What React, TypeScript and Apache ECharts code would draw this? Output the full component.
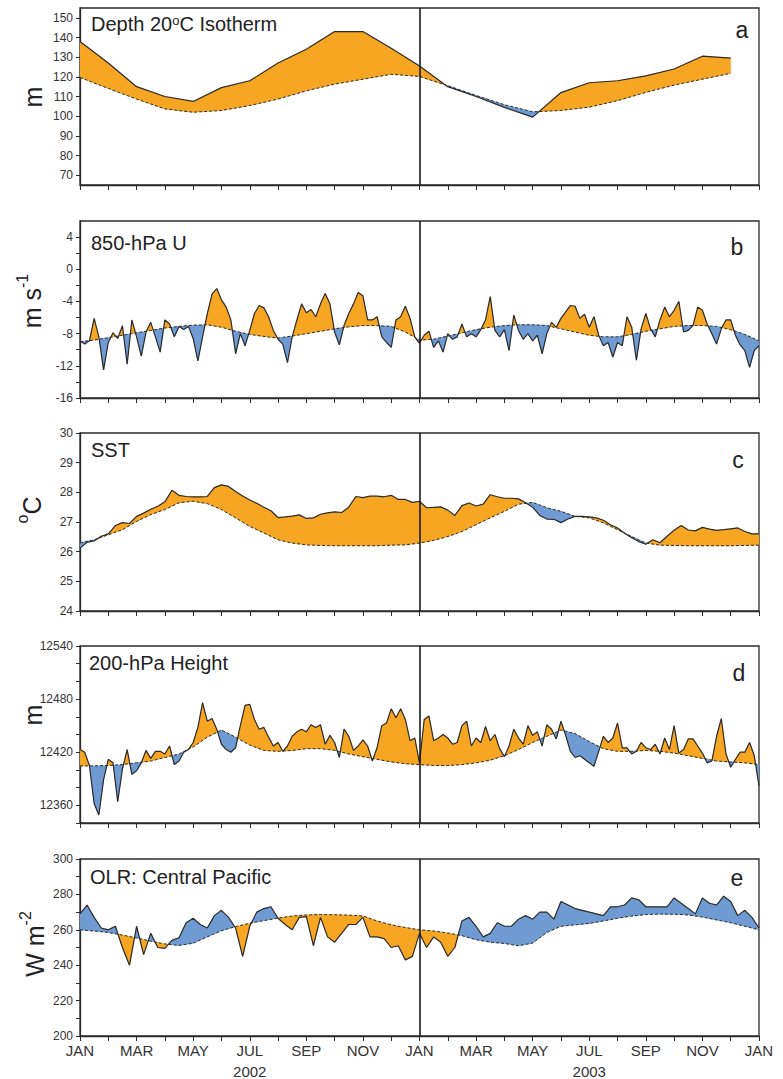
import React, { useEffect, useRef } from "react";
import * as echarts from "echarts";

const MONTHS = ["JAN", "FEB", "MAR", "APR", "MAY", "JUN", "JUL", "AUG", "SEP", "OCT", "NOV", "DEC"];
const YEARS = ["2002", "2003"];

// (a) Depth of 20C isotherm, monthly from Jan 2002
const depthStep = 1;
const depthActual = [138, 127, 115, 110, 107.5, 114.5, 118, 127, 134, 143, 143, 134.5, 125.5, 115, 110, 104.5, 99.5, 112, 117, 118, 120.5, 124, 130.5, 129.5];
const depthClim = [119.7, 114.1, 108.7, 103.7, 102, 102.9, 105.4, 108.7, 112.9, 116.3, 118.8, 121.3, 120.2, 115.5, 110.5, 105.8, 102.2, 102.9, 104.6, 107.9, 112.1, 115.8, 118.8, 121.8];
const depthTicks = [70, 80, 90, 100, 110, 120, 130, 140, 150];

// (b) 850-hPa U, 6 samples per month
const uStep = 1 / 6;
const uActual = [
  -8.9, -9.3, -8.9, -6.1, -8.4, -12.5, -9.1, -7.9, -8.6, -7.0,
  -11.8, -6.3, -8.4, -10.8, -7.8, -6.6, -8.4, -10.3, -6.3, -6.8,
  -8.4, -7.1, -7.5, -7.1, -8.6, -11.4, -8.4, -5.5, -3.1, -2.4,
  -3.8, -4.7, -6.3, -10.5, -8.0, -9.5, -7.6, -5.5, -4.5, -4.8,
  -5.9, -7.6, -8.7, -9.3, -11.6, -8.4, -6.3, -4.3, -5.4, -5.0,
  -5.9, -4.3, -3.0, -4.3, -7.8, -9.4, -7.0, -5.5, -4.3, -2.9,
  -3.3, -6.3, -6.3, -5.9, -8.4, -9.1, -9.7, -6.3, -5.9, -4.6,
  -6.1, -8.4, -9.2,
  -8.2, -7.7, -9.7, -8.9, -10.3, -8.0, -8.7, -8.4, -6.8, -8.4,
  -8.0, -8.4, -7.5, -6.3, -3.4, -7.6, -8.4, -7.5, -10.1, -5.7,
  -7.6, -8.7, -8.0, -8.9, -8.2, -10.5, -8.0, -6.6, -7.2, -6.1,
  -5.3, -4.5, -4.6, -6.1, -5.6, -7.2, -5.9, -8.2, -9.5, -9.1,
  -10.9, -9.1, -9.5, -5.9, -7.2, -11.3, -7.4, -5.5, -7.4, -8.4,
  -6.3, -4.7, -5.9, -5.1, -4.0, -7.8, -7.6, -7.0, -4.7, -5.1,
  -6.8, -8.0, -9.3, -7.4, -6.3, -6.3, -8.2, -9.4, -10.1, -12.2,
  -10.1, -9.5,
];
const uClimStep = 0.5;
const uClim = [
  -9.0, -8.8, -8.5, -8.2, -7.9, -7.6, -7.3, -7.1, -6.95, -6.9, -7.2, -7.7, -8.1, -8.35, -8.55, -8.3, -8.0, -7.7, -7.4, -7.15, -7.0, -7.0, -7.1, -7.8, -8.8,
  -8.7, -8.3, -7.9, -7.5, -7.2, -7.0, -6.9, -6.9, -7.0, -7.4, -7.8, -8.2, -8.4, -8.4, -8.1, -7.7, -7.4, -7.1, -7.0, -7.0, -7.1, -7.5, -8.1, -8.9,
];
const uLabels = [-16, -12, -8, -4, 0, 4];
const uTicks = [-16, -14, -12, -10, -8, -6, -4, -2, 0, 2, 4];

// (c) SST, 4 samples per month
const sstStep = 0.25;
const sstActual = [
  26.12, 26.32, 26.36, 26.52, 26.6, 26.88, 26.98, 26.95, 27.19, 27.3, 27.43, 27.53, 27.68,
  28.07, 27.9, 27.86, 27.85, 27.85, 27.86, 28.16, 28.25, 28.2, 28.03, 27.88, 27.74,
  27.63, 27.5, 27.38, 27.15, 27.17, 27.2, 27.24, 27.12, 27.14, 27.26, 27.31, 27.34,
  27.32, 27.5, 27.86, 27.82, 27.87, 27.87, 27.85, 27.9, 27.76, 27.76, 27.66, 27.7,
  27.48, 27.49, 27.51, 27.4, 27.22, 27.55, 27.64, 27.54, 27.6, 27.92, 27.85, 27.8,
  27.8, 27.78, 27.65, 27.5, 27.22, 27.1, 27.09, 26.98, 27.1, 27.19, 27.19, 27.17,
  27.14, 27.06, 26.91, 26.8, 26.62, 26.47, 26.34, 26.25, 26.4, 26.3, 26.52, 26.72,
  26.88, 26.73, 26.7, 26.82, 26.76, 26.72, 26.74, 26.77, 26.8, 26.68, 26.6, 26.6,
];
const sstClimStep = 0.5;
const sstClim = [
  26.3, 26.4, 26.57, 26.74, 27.02, 27.25, 27.42, 27.65, 27.7, 27.62, 27.42, 27.14, 26.85, 26.63, 26.4, 26.29, 26.23, 26.21, 26.2, 26.2, 26.2, 26.2, 26.22, 26.23, 26.29,
  26.38, 26.51, 26.68, 26.91, 27.14, 27.36, 27.6, 27.66, 27.48, 27.36, 27.19, 27.14, 26.97, 26.74, 26.51, 26.29, 26.22, 26.21, 26.2, 26.2, 26.2, 26.2, 26.21, 26.22,
];
const sstTicks = [24, 25, 26, 27, 28, 29, 30];

// (d) 200-hPa height, 6 samples per month
const zStep = 1 / 6;
const zActual = [
  12423, 12420, 12405, 12362, 12349, 12389, 12412, 12408, 12364, 12401,
  12423, 12395, 12399, 12408, 12422, 12413, 12421, 12421, 12418, 12427,
  12406, 12410, 12420, 12423, 12431, 12448, 12476, 12455, 12458, 12446,
  12429, 12423, 12420, 12425, 12450, 12473, 12474, 12457, 12446, 12448,
  12437, 12427, 12431, 12421, 12427, 12438, 12443, 12446, 12443, 12451,
  12448, 12451, 12429, 12439, 12431, 12414, 12446, 12438, 12422, 12427,
  12434, 12427, 12410, 12425, 12450, 12453, 12469, 12459, 12469, 12457,
  12433, 12436, 12408, 12457, 12461, 12433, 12436, 12440, 12436, 12429,
  12431, 12450, 12455, 12427, 12436, 12431, 12449, 12433, 12440, 12424,
  12415, 12427, 12446, 12436, 12429, 12450, 12439, 12443, 12427, 12451,
  12446, 12435, 12455, 12439, 12421, 12414, 12416, 12412, 12408, 12404,
  12421, 12438, 12431, 12436, 12453, 12425, 12425, 12418, 12421, 12431,
  12425, 12423, 12429, 12418, 12436, 12423, 12450, 12419, 12423, 12435,
  12435, 12427, 12419, 12408, 12410, 12438, 12458, 12418, 12403, 12412,
  12420, 12420, 12431, 12416, 12382,
];
const zClimStep = 0.5;
const zClim = [
  12404.5, 12404.5, 12405, 12406, 12408, 12410, 12414, 12418, 12426, 12437, 12445, 12437, 12428, 12422, 12421, 12422, 12424, 12424, 12422, 12418, 12415, 12412, 12409, 12407, 12406,
  12405, 12405, 12406, 12408, 12411, 12416, 12423, 12431, 12438, 12445, 12441, 12432, 12424, 12421, 12421, 12422, 12421, 12419, 12416, 12413, 12410, 12409, 12408, 12406,
];
const zLabels = [12360, 12420, 12480, 12540];
const zTicks = [12340, 12360, 12380, 12400, 12420, 12440, 12460, 12480, 12500, 12520, 12540];

// (e) OLR central Pacific, 4 samples per month
const olrStep = 0.25;
const olrActual = [
  269, 274, 267, 261, 260, 262, 250, 240, 262, 246, 258, 250, 249.5, 254, 255.5, 264, 266.5, 263, 261, 268, 271, 267, 261, 245, 262,
  270, 272, 273, 266.5, 263, 260, 267, 267.4, 251, 267, 256, 253, 258, 263, 263, 267, 256, 256, 255, 250, 251, 243, 245, 258,
  250, 256, 253, 245, 250, 265, 267, 262, 256, 258, 264, 262, 262, 266, 268, 266, 270, 270, 266, 276, 274, 272, 271, 270,
  269, 268, 273, 273, 274, 278, 277, 273, 273, 273, 273, 278, 275, 272, 269, 278, 275, 274, 279, 276, 268, 271, 267, 261,
];
const olrClimStep = 0.5;
const olrClim = [
  260.0, 259.3, 258.5, 257.0, 255.4, 253.6, 252.0, 251.2, 252.4, 256.0, 259.5, 261.8, 263.7, 265.2, 266.6, 267.8, 268.4, 268.6, 268.5, 268.3, 267.8, 265.0, 262.8, 261.3, 260.0,
  259.3, 258.2, 256.7, 254.4, 253.0, 252.3, 251.0, 252.5, 258.5, 262.0, 262.8, 263.6, 265.0, 266.5, 267.8, 268.6, 268.9, 268.8, 268.4, 267.2, 265.6, 264.0, 262.0, 260.0,
];
const olrLabels = [200, 220, 240, 260, 280, 300];
const olrTicks = [200, 210, 220, 230, 240, 250, 260, 270, 280, 290, 300];

const ORANGE = "#F6A623";
const BLUE = "#6F9AD2";
const INK = "#2b2b2b";
const FONT = "'Liberation Sans', Arial, Helvetica, sans-serif";

type Pt = { x: number; a: number; c: number };

function toPairs(vals: number[], step: number): number[][] {
  return vals.map((v, i) => [i * step, v]);
}

function interp(pairs: number[][], x: number): number {
  for (let i = 0; i < pairs.length - 1; i++) {
    const [x0, y0] = pairs[i];
    const [x1, y1] = pairs[i + 1];
    if (x >= x0 - 1e-9 && x <= x1 + 1e-9) {
      const t = x1 === x0 ? 0 : (x - x0) / (x1 - x0);
      return y0 + t * (y1 - y0);
    }
  }
  return pairs[pairs.length - 1][1];
}

function buildRuns(act: number[][], clim: number[][]) {
  const lo = Math.max(act[0][0], clim[0][0]);
  const hi = Math.min(act[act.length - 1][0], clim[clim.length - 1][0]);
  const set = new Map<string, number>();
  [...act, ...clim].forEach((p) => {
    if (p[0] >= lo - 1e-9 && p[0] <= hi + 1e-9) set.set(p[0].toFixed(6), p[0]);
  });
  const xs = Array.from(set.values()).sort((a, b) => a - b);
  const pts: Pt[] = xs.map((x) => ({ x, a: interp(act, x), c: interp(clim, x) }));
  const runs: { sign: number; pts: Pt[] }[] = [];
  let cur: Pt[] = [];
  let sign = 0;
  for (let i = 0; i < pts.length; i++) {
    const p = pts[i];
    const d = p.a - p.c;
    const s = d > 0 ? 1 : d < 0 ? -1 : 0;
    if (s !== 0 && sign !== 0 && s !== sign && i > 0) {
      const q = pts[i - 1];
      const dq = q.a - q.c;
      const t = dq / (dq - d);
      const cx = q.x + t * (p.x - q.x);
      const cy = q.c + t * (p.c - q.c);
      const cp = { x: cx, a: cy, c: cy };
      cur.push(cp);
      runs.push({ sign, pts: cur });
      cur = [cp];
    }
    if (s !== 0) sign = s;
    cur.push(p);
  }
  if (cur.length > 1) runs.push({ sign: sign || 1, pts: cur });
  return runs;
}

const panelDefs = [
  { act: depthActual, actStep: depthStep, clim: depthClim, climStep: depthStep, min: 65, max: 155, labels: depthTicks, ticks: depthTicks, top: 8, height: 177, invert: false },
  { act: uActual, actStep: uStep, clim: uClim, climStep: uClimStep, min: -16, max: 6, labels: uLabels, ticks: uTicks, top: 221, height: 177, invert: false },
  { act: sstActual, actStep: sstStep, clim: sstClim, climStep: sstClimStep, min: 24, max: 30, labels: sstTicks, ticks: sstTicks, top: 433, height: 178, invert: false },
  { act: zActual, actStep: zStep, clim: zClim, climStep: zClimStep, min: 12340, max: 12540, labels: zLabels, ticks: zTicks, top: 646, height: 177, invert: false },
  { act: olrActual, actStep: olrStep, clim: olrClim, climStep: olrClimStep, min: 200, max: 300, labels: olrLabels, ticks: olrTicks, top: 859, height: 177, invert: true },
];

const titles = [
  { text: "Depth 20{s|o}C Isotherm", x: 91, y: 24 },
  { text: "850-hPa U", x: 91, y: 243 },
  { text: "SST", x: 91, y: 450 },
  { text: "200-hPa Height", x: 89, y: 663 },
  { text: "OLR: Central Pacific", x: 90, y: 877 },
];
const letters = [
  { text: "a", x: 742, y: 30 },
  { text: "b", x: 737, y: 247 },
  { text: "c", x: 738, y: 460 },
  { text: "d", x: 739, y: 673 },
  { text: "e", x: 737, y: 878 },
];
const yNames = [
  { text: "{n|m}", x: 30, y: 97 },
  { text: "{n|m s}{s|-1}", x: 29, y: 301 },
  { text: "{s|o}{n|C}", x: 29, y: 510 },
  { text: "{n|m}", x: 30, y: 715 },
  { text: "{n|W m}{s|-2}", x: 32, y: 944 },
];

function buildOption() {
  const grid: any[] = [];
  const xAxis: any[] = [];
  const yAxis: any[] = [];
  const series: any[] = [];

  panelDefs.forEach((p, i) => {
    grid.push({ left: 80, right: 24, top: p.top, height: p.height, show: true, borderColor: INK, borderWidth: 1.3, backgroundColor: "transparent" });
    xAxis.push({
      gridIndex: i,
      type: "value",
      min: 0,
      max: 24,
      interval: 1,
      axisLine: { show: true, onZero: false, lineStyle: { color: INK, width: 1.3 } },
      axisTick: { show: true, length: 5, lineStyle: { color: INK, width: 1 } },
      splitLine: { show: false },
      axisLabel: {
        show: i === panelDefs.length - 1,
        margin: 4,
        formatter: (v: number) => {
          const k = Math.round(v);
          if (k % 2 !== 0) return "";
          const m = MONTHS[k % 12];
          if (k % 12 === 6) return `{m|${m}}\n{y|${YEARS[Math.floor(k / 12)]}}`;
          return `{m|${m}}`;
        },
        rich: {
          m: { fontSize: 15, fontFamily: FONT, color: "#333", lineHeight: 21 },
          y: { fontSize: 15, fontFamily: FONT, color: "#333", lineHeight: 21 },
        },
      },
    });
    yAxis.push({
      gridIndex: i,
      type: "value",
      min: p.min,
      max: p.max,
      axisLine: { show: true, onZero: false, lineStyle: { color: INK, width: 1.3 } },
      axisTick: { show: true, length: 4, customValues: p.ticks, lineStyle: { color: INK, width: 1 } },
      splitLine: { show: false },
      axisLabel: {
        customValues: p.labels,
        fontSize: 12,
        fontFamily: FONT,
        color: "#333",
        margin: 7,
        formatter: (v: number) => String(v),
      },
    });

    const act = toPairs(p.act, p.actStep);
    const clim = toPairs(p.clim, p.climStep);
    const runs = buildRuns(act, clim);
    series.push({
      type: "custom",
      coordinateSystem: "cartesian2d",
      xAxisIndex: i,
      yAxisIndex: i,
      silent: true,
      clip: true,
      z: 1,
      data: runs.map((r) => [r.pts[0].x, r.pts[0].a]),
      renderItem: (params: any, api: any) => {
        const r = runs[params.dataIndex];
        const topPts = r.pts.map((q) => api.coord([q.x, q.a]));
        const botPts = r.pts.slice().reverse().map((q) => api.coord([q.x, q.c]));
        const positive = r.sign > 0;
        const color = p.invert ? (positive ? BLUE : ORANGE) : positive ? ORANGE : BLUE;
        return {
          type: "polygon",
          shape: { points: topPts.concat(botPts) },
          style: { fill: color, stroke: color, lineWidth: 0.4 },
        };
      },
    });
    series.push({
      type: "line",
      xAxisIndex: i,
      yAxisIndex: i,
      data: act,
      showSymbol: false,
      symbol: "none",
      silent: true,
      z: 3,
      lineStyle: { color: INK, width: 1.2 },
      markLine: {
        silent: true,
        symbol: ["none", "none"],
        label: { show: false },
        lineStyle: { color: "#1a1a1a", width: 1.6, type: "solid" },
        data: [{ xAxis: 12 }],
      },
    });
    series.push({
      type: "line",
      xAxisIndex: i,
      yAxisIndex: i,
      data: clim,
      showSymbol: false,
      symbol: "none",
      silent: true,
      z: 4,
      lineStyle: { color: INK, width: 1, type: [3, 2] },
    });
  });

  const graphic: any[] = [];
  titles.forEach((t) => {
    graphic.push({
      type: "text",
      x: t.x,
      y: t.y,
      z: 10,
      style: {
        text: t.text,
        fontSize: 20,
        fontFamily: FONT,
        fill: "#222",
        align: "left",
        verticalAlign: "middle",
        rich: {
          s: { fontSize: 13, fontFamily: FONT, fill: "#222", verticalAlign: "top", lineHeight: 12 },
        },
      },
    });
  });
  letters.forEach((t) => {
    graphic.push({
      type: "text",
      x: t.x,
      y: t.y,
      z: 10,
      style: { text: t.text, fontSize: 23, fontFamily: FONT, fill: "#222", align: "center", verticalAlign: "middle" },
    });
  });
  yNames.forEach((t) => {
    graphic.push({
      type: "text",
      x: t.x,
      y: t.y,
      rotation: Math.PI / 2,
      z: 10,
      style: {
        text: t.text,
        fontSize: 24,
        fontFamily: FONT,
        fill: "#222",
        align: "center",
        verticalAlign: "middle",
        rich: {
          n: { fontSize: 25, fontFamily: FONT, fill: "#222", lineHeight: 30, verticalAlign: "bottom" },
          s: { fontSize: 16, fontFamily: FONT, fill: "#222", lineHeight: 16, verticalAlign: "top" },
        },
      },
    });
  });

  return { animation: false, backgroundColor: "#ffffff", grid, xAxis, yAxis, series, graphic };
}

export default function App() {
  const ref = useRef<HTMLDivElement>(null);
  useEffect(() => {
    if (!ref.current) return;
    const chart = echarts.init(ref.current, undefined, { renderer: "svg" });
    chart.setOption(buildOption() as any);
    return () => chart.dispose();
  }, []);
  return <div ref={ref} style={{ position: "absolute", left: 0, top: 0, width: 783, height: 1079 }} />;
}
